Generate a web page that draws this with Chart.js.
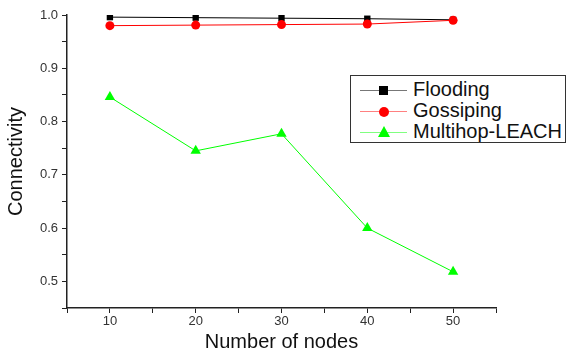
<!DOCTYPE html>
<html>
<head>
<meta charset="utf-8">
<script src="https://cdn.jsdelivr.net/npm/chart.js@4.4.1/dist/chart.umd.min.js"></script>
<style>
    html, body { margin: 0; padding: 0; background: #fff; }
    #wrap { position: relative; width: 569px; height: 354px; }
    #legend {
        position: absolute; left: 350px; top: 75px; width: 216px; height: 68px;
        border: 1px solid #333; background: #fff;
        font-family: "Liberation Sans", Arial, sans-serif; font-size: 20px; color: #111;
        padding-top: 4px; box-sizing: border-box;
    }
    .row { position: relative; height: 21px; line-height: 21px; }
    .row .ln { position: absolute; left: 9px; top: 10px; width: 47px; height: 1px; }
    .row .mk { position: absolute; }
    .row .tx { position: absolute; left: 62px; top: -1px; white-space: nowrap; }
</style>
</head>
<body>
<div id="wrap">
    <canvas id="chart" width="569" height="354"></canvas>
    <div id="legend"></div>
</div>
<script>
// number of nodes
const nodes = [10, 20, 30, 40, 50];
// connectivity per protocol
const flooding = [0.996, 0.995, 0.994, 0.993, 0.991];
const gossiping = [0.980, 0.981, 0.982, 0.983, 0.990];
const multihopLeach = [0.846, 0.745, 0.777, 0.600, 0.518];

const seriesNames = ["Flooding", "Gossiping", "Multihop-LEACH"];
const lineColors = ["#000000", "#ff0000", "#00ff00"];
const legendLineColors = ["#777777", "#ff8080", "#80ff80"];
const markers = ["rect", "circle", "triangle"];

const axisColor = "#222";
const tickFont = {family: "Liberation Sans, Arial, sans-serif", size: 13};
const titleFont = {family: "Liberation Sans, Arial, sans-serif", size: 20};

function toPoints(values) {
    return nodes.map((x, i) => ({x: x, y: values[i]}));
}

const datasets = [flooding, gossiping, multihopLeach].map((values, i) => ({
    label: seriesNames[i],
    data: toPoints(values),
    borderColor: lineColors[i],
    backgroundColor: lineColors[i],
    borderWidth: 1,
    pointStyle: markers[i],
    pointRadius: i === 2 ? 6 : 4.5,
    pointBorderWidth: 0,
    order: [2, 1, 0][i]
}));

const chart = new Chart(document.getElementById("chart"), {
    type: "line",
    data: {datasets: datasets},
    options: {
        responsive: false,
        animation: false,
        layout: {padding: {left: 0, right: 73, top: 15, bottom: 0}},
        plugins: {legend: {display: false}, tooltip: {enabled: false}},
        scales: {
            x: {
                type: "linear",
                min: 5,
                max: 55,
                afterFit: scale => { scale.height = 46; },
                border: {display: true, color: axisColor, width: 1.5},
                grid: {drawOnChartArea: false, drawTicks: true, tickLength: 5, color: axisColor},
                ticks: {
                    stepSize: 5,
                    autoSkip: false,
                    maxRotation: 0,
                    padding: 1,
                    color: "#333",
                    font: tickFont,
                    callback: v => (v % 10 === 0 ? String(v) : "")
                },
                title: {display: true, text: "Number of nodes", color: "#111", font: titleFont, padding: {top: 2, bottom: 0}}
            },
            y: {
                min: 0.45,
                max: 1.0,
                afterFit: scale => { scale.width = 67; },
                border: {display: true, color: axisColor, width: 1.5},
                grid: {drawOnChartArea: false, drawTicks: true, tickLength: 5, color: axisColor},
                ticks: {
                    stepSize: 0.05,
                    autoSkip: false,
                    padding: 4,
                    color: "#333",
                    font: tickFont,
                    callback: v => {
                        const t = v * 10;
                        return Math.abs(t - Math.round(t)) < 1e-6 ? v.toFixed(1) : "";
                    }
                },
                title: {display: true, text: "Connectivity", color: "#111", font: titleFont, padding: {top: 4, bottom: 2}}
            }
        }
    }
});

// legend box drawn from the datasets
const legend = document.getElementById("legend");
chart.data.datasets.forEach((ds, i) => {
    const row = document.createElement("div");
    row.className = "row";
    const ln = document.createElement("div");
    ln.className = "ln";
    ln.style.background = legendLineColors[i];
    const mk = document.createElement("div");
    mk.className = "mk";
    if (ds.pointStyle === "rect") {
        Object.assign(mk.style, {left: "28px", top: "6px", width: "9px", height: "9px", background: ds.backgroundColor});
    } else if (ds.pointStyle === "circle") {
        Object.assign(mk.style, {left: "28px", top: "6px", width: "10px", height: "10px", borderRadius: "50%", background: ds.backgroundColor});
    } else {
        Object.assign(mk.style, {left: "27px", top: "4px", width: "0", height: "0",
            borderLeft: "6px solid transparent", borderRight: "6px solid transparent",
            borderBottom: "11px solid " + ds.backgroundColor});
    }
    const tx = document.createElement("span");
    tx.className = "tx";
    tx.textContent = ds.label;
    row.appendChild(ln);
    row.appendChild(mk);
    row.appendChild(tx);
    legend.appendChild(row);
});
</script>
</body>
</html>
